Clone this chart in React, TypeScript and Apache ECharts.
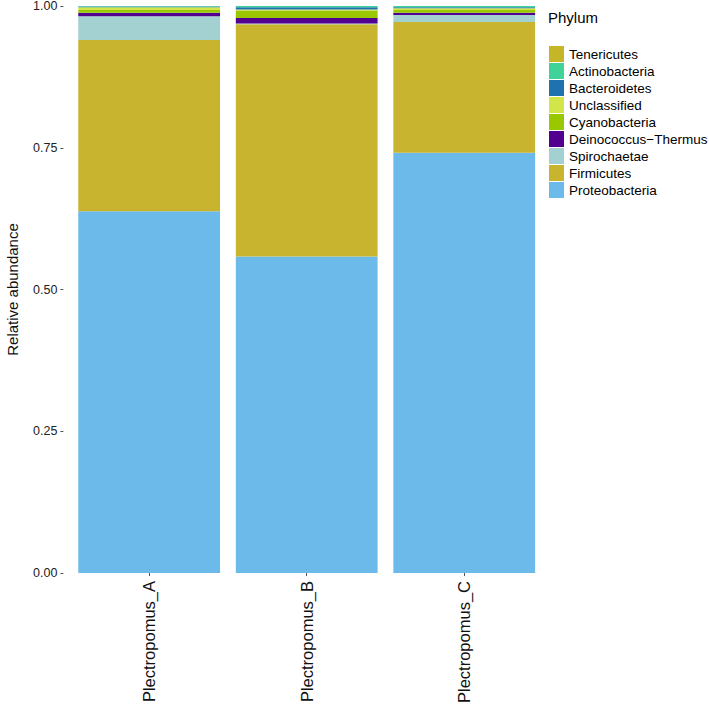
import React, { useEffect, useRef } from "react";
import * as echarts from "echarts";

const samples = ["Plectropomus_A", "Plectropomus_B", "Plectropomus_C"];

// stack order, bottom to top
const phyla = [
  "Proteobacteria",
  "Firmicutes",
  "Spirochaetae",
  "Deinococcus\u2212Thermus",
  "Cyanobacteria",
  "Unclassified",
  "Bacteroidetes",
  "Actinobacteria",
  "Tenericutes",
];

const proteobacteria = [0.638, 0.558, 0.741];
const firmicutes = [0.302, 0.41, 0.231];
const spirochaetae = [0.042, 0.001, 0.012];
const deinococcus = [0.006, 0.01, 0.004];
const cyanobacteria = [0.005, 0.013, 0.005];
const unclassified = [0.005, 0.002, 0.003];
const bacteroidetes = [0.001, 0.004, 0.002];
const actinobacteria = [0.0008, 0.0018, 0.0018];
const tenericutes = [0.0002, 0.0002, 0.0002];

const values = [
  proteobacteria,
  firmicutes,
  spirochaetae,
  deinococcus,
  cyanobacteria,
  unclassified,
  bacteroidetes,
  actinobacteria,
  tenericutes,
];

const colors = [
  "#6CBAEA",
  "#C8B42F",
  "#A3D0D0",
  "#52008F",
  "#99C800",
  "#D2E64A",
  "#1F72B0",
  "#3FD39A",
  "#C4B628",
];

const yTicks = [0, 0.25, 0.5, 0.75, 1];

const FONT = "'Liberation Sans', Arial, Helvetica, sans-serif";

export default function App() {
  const ref = useRef<HTMLDivElement>(null);
  useEffect(() => {
    document.body.style.margin = "0";
    const chart = echarts.init(ref.current!, null, { renderer: "svg" });
    chart.setOption({
      animation: false,
      backgroundColor: "#ffffff",
      textStyle: { fontFamily: FONT },
      grid: {
        left: 70.4,
        right: 166,
        top: 6,
        bottom: 149,
        containLabel: false,
        outerBoundsMode: "none",
      },
      title: {
        text: "Phylum",
        left: 543,
        top: 5,
        textStyle: { fontFamily: FONT, fontSize: 15, fontWeight: "normal", color: "#000" },
      },
      legend: {
        orient: "vertical",
        left: 544,
        top: 41,
        itemWidth: 15,
        itemHeight: 16,
        itemGap: 1,
        icon: "rect",
        data: phyla.slice().reverse(),
        textStyle: { fontFamily: FONT, fontSize: 13.5, color: "#000" },
        selectedMode: false,
      },
      xAxis: {
        type: "category",
        data: samples,
        axisLine: { show: false },
        axisTick: { show: true, alignWithLabel: true, length: 3, lineStyle: { color: "#555" } },
        axisLabel: {
          rotate: 90,
          fontSize: 16.5,
          color: "#111",
          margin: 8,
          fontFamily: FONT,
        },
      },
      yAxis: {
        type: "value",
        min: 0,
        max: 1,
        interval: 0.25,
        offset: 7,
        name: "Relative abundance",
        nameLocation: "middle",
        nameGap: 43,
        nameTextStyle: { fontSize: 15, color: "#111", fontFamily: FONT },
        axisLine: { show: false },
        axisTick: { show: true, length: 3, lineStyle: { color: "#555" } },
        splitLine: { show: false },
        axisLabel: {
          fontSize: 12.5,
          color: "#222",
          margin: 6,
          fontFamily: FONT,
          formatter: (v: number) => (yTicks.includes(v) ? v.toFixed(2) : ""),
        },
      },
      series: phyla.map((name, i) => ({
        name,
        type: "bar",
        stack: "total",
        barWidth: "90%",
        data: values[i],
        itemStyle: { color: colors[i] },
        emphasis: { disabled: true },
      })),
    });
    return () => chart.dispose();
  }, []);
  return <div ref={ref} style={{ width: 709, height: 722 }} />;
}
